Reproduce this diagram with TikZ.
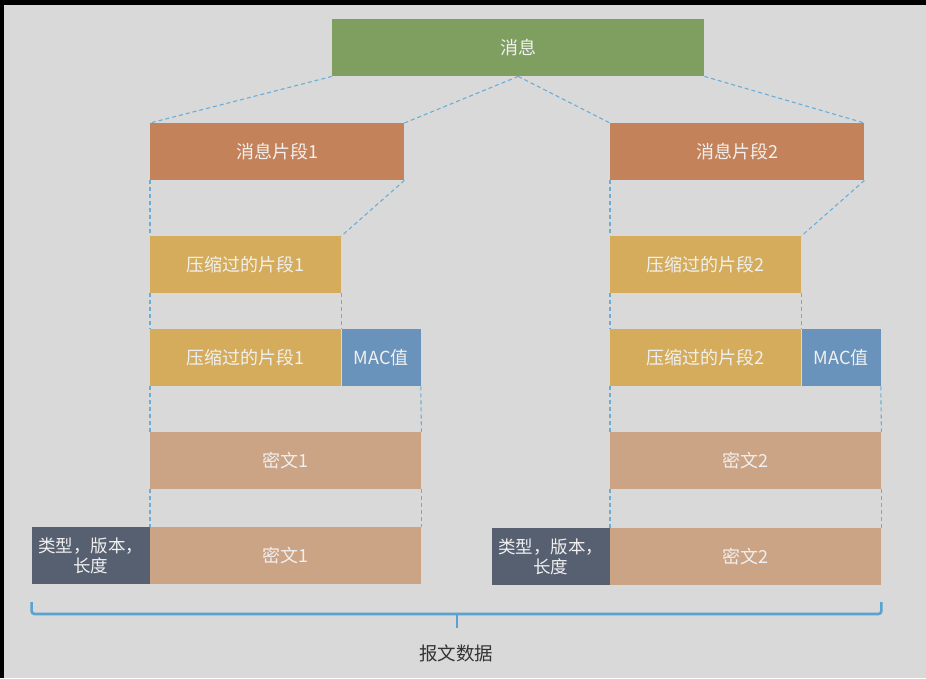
\documentclass[tikz,border=0pt]{standalone}
\usepackage{fontspec}
\setmainfont{Noto Sans CJK SC}
\usepackage{tikz}
\usetikzlibrary{positioning}

\definecolor{msggreen}{HTML}{7F9F61}
\definecolor{fragorange}{HTML}{C4825A}
\definecolor{zipyellow}{HTML}{D4AC5B}
\definecolor{macblue}{HTML}{6A93BB}
\definecolor{ciphertan}{HTML}{CBA385}
\definecolor{headslate}{HTML}{576070}
\definecolor{linkblue}{HTML}{6AAED6}
\definecolor{bracecol}{HTML}{5AA2D0}
\definecolor{bggrey}{HTML}{D9D9D9}
\definecolor{boxtext}{HTML}{F0F0F0}

\begin{document}
\begin{tikzpicture}[
        x=1pt, y=-1pt,
        node distance=0pt,
        block/.style={rectangle, inner sep=0pt, minimum height=57pt, anchor=north west, text=boxtext, font=\fontsize{18}{21}\selectfont},
        msg/.style={block, fill=msggreen, minimum width=372pt},
        frag/.style={block, fill=fragorange, minimum width=254pt},
        zip/.style={block, fill=zipyellow, minimum width=191pt},
        mac/.style={block, fill=macblue, minimum width=79pt},
        cipher/.style={block, fill=ciphertan, minimum width=271pt},
        head/.style={block, fill=headslate, minimum width=118pt, align=center, font=\fontsize{17.5}{20}\selectfont},
        link/.style={draw=linkblue, line width=1.1pt, dash pattern=on 4pt off 3pt},
        brace/.style={draw=bracecol, line width=2.6pt, rounded corners=3pt}
    ]

    % Frame
    \useasboundingbox (0,0) rectangle (926,678);
    \fill[black] (0,0) rectangle (926,678);
    \fill[bggrey] (4,5) rectangle (926,678);

    % Nodes
    \node[msg] (msg) at (332,19) {消息};

    \node[frag] (fragA) at (150,123) {消息片段1};
    \node[frag] (fragB) at (610,123) {消息片段2};

    \node[zip] (zipA) at (150,236) {压缩过的片段1};
    \node[zip] (zipB) at (610,236) {压缩过的片段2};

    \node[zip] (zipmacA) at (150,329) {压缩过的片段1};
    \node[mac, right=of zipmacA.north east, anchor=north west] (macA) {MAC值};
    \node[zip] (zipmacB) at (610,329) {压缩过的片段2};
    \node[mac, right=of zipmacB.north east, anchor=north west] (macB) {MAC值};

    \node[cipher] (encA) at (150,432) {密文1};
    \node[cipher] (encB) at (610,432) {密文2};

    \node[cipher] (recA) at (150,527) {密文1};
    \node[head, left=of recA.north west, anchor=north east] (hdrA) {类型，版本，\\长度};
    \node[cipher] (recB) at (610,528) {密文2};
    \node[head, left=of recB.north west, anchor=north east] (hdrB) {类型，版本，\\长度};

    % Edges
    \draw[link] (msg.south west) -- (fragA.north west);
    \draw[link] (msg.south) -- (fragA.north east);
    \draw[link] (msg.south) -- (fragB.north west);
    \draw[link] (msg.south east) -- (fragB.north east);

    \draw[link] (fragA.south west) -- (zipA.north west);
    \draw[link] (fragA.south east) -- (zipA.north east);
    \draw[link] (fragB.south west) -- (zipB.north west);
    \draw[link] (fragB.south east) -- (zipB.north east);

    \draw[link] (zipA.south west) -- (zipmacA.north west);
    \draw[link] (zipA.south east) -- (zipmacA.north east);
    \draw[link] (zipB.south west) -- (zipmacB.north west);
    \draw[link] (zipB.south east) -- (zipmacB.north east);

    \draw[link] (zipmacA.south west) -- (encA.north west);
    \draw[link] (macA.south east) -- (encA.north east);
    \draw[link] (zipmacB.south west) -- (encB.north west);
    \draw[link] (macB.south east) -- (encB.north east);

    \draw[link] (encA.south west) -- (recA.north west);
    \draw[link] (encA.south east) -- (recA.north east);
    \draw[link] (encB.south west) -- (recB.north west);
    \draw[link] (encB.south east) -- (recB.north east);

    % Brace
    \coordinate (tip) at (457,628);
    \draw[brace] (hdrA.south west |- 0,602) -- (hdrA.south west |- 0,614) -- (recB.south east |- 0,614) -- (recB.south east |- 0,602);
    \draw[draw=bracecol, line width=2.6pt] (tip |- 0,614) -- (tip);
    \node[font=\fontsize{18.5}{21}\selectfont, text=black!80] (total) at (456,653) {报文数据};

\end{tikzpicture}
\end{document}
